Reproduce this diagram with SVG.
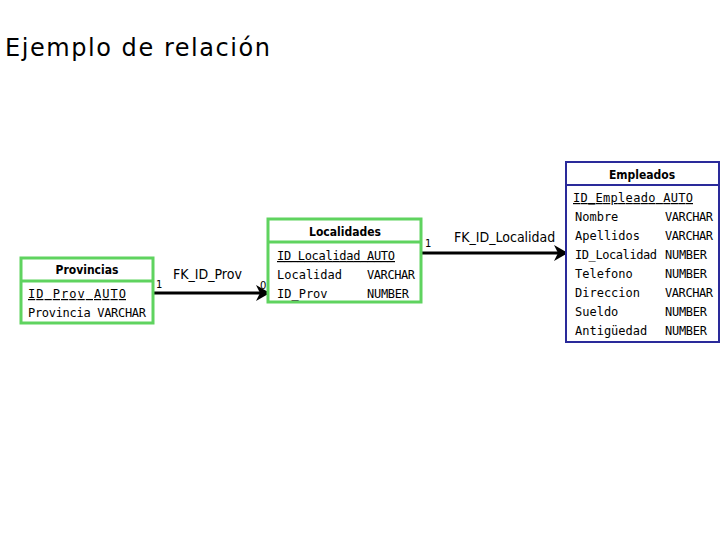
<svg xmlns="http://www.w3.org/2000/svg" width="720" height="540" viewBox="0 0 720 540">
<defs>
<style>
.g{fill:#fff;stroke:#5fd35f;stroke-width:3}
.b{fill:#fff;stroke:#2a2a9a;stroke-width:2}
.hd{font-family:"DejaVu Sans Condensed","DejaVu Sans",sans-serif;font-weight:bold;font-size:12px;text-anchor:middle}
.r{font-family:"DejaVu Sans Mono",monospace;font-size:12px}
.l{font-family:"DejaVu Sans Condensed","DejaVu Sans",sans-serif;font-size:14px}
.s{font-family:"DejaVu Sans",sans-serif;font-size:10px}
.c{stroke:#000;stroke-width:3;fill:none}
</style>
<marker id="a" markerWidth="14" markerHeight="16" refX="12" refY="8" orient="auto" markerUnits="userSpaceOnUse"><path d="M0,0 L14,8 L0,16 L4,8 Z" fill="#000"/></marker>
</defs>
<rect width="720" height="540" fill="#fff"/>
<text x="5" y="56" font-family="'DejaVu Sans',sans-serif" font-size="24" textLength="265">Ejemplo de relación</text>
<g id="connectors">
<line class="c" x1="154" y1="293" x2="268" y2="293" marker-end="url(#a)"/>
<text class="l" x="173" y="279">FK_ID_Prov</text>
<text class="s" x="156" y="288">1</text>
<text class="s" x="260" y="289">0</text>
<line class="c" x1="422" y1="253" x2="566" y2="253" marker-end="url(#a)"/>
<text class="l" x="454" y="242">FK_ID_Localidad</text>
<text class="s" x="425" y="247">1</text>
</g>
<g id="provincias">
<rect class="g" x="21" y="258" width="132" height="65"/>
<line class="g" x1="21" y1="281" x2="153" y2="281"/>
<text class="hd" x="87" y="274">Provincias</text>
<text class="r" x="28" y="298" text-decoration="underline" textLength="98">ID Prov   AUTO</text>
<text class="r" x="28" y="317" textLength="118">Provincia VARCHAR</text>
</g>
<g id="localidades">
<rect class="g" x="268" y="219" width="153" height="83"/>
<line class="g" x1="268" y1="242" x2="421" y2="242"/>
<text class="hd" x="345" y="236">Localidades</text>
<text class="r" x="277" y="260" text-decoration="underline" textLength="118">ID Localidad AUTO</text>
<text class="r" x="277" y="279">Localidad</text><text class="r" x="367" y="279" textLength="48">VARCHAR</text>
<text class="r" x="277" y="298">ID_Prov</text><text class="r" x="367" y="298" textLength="42">NUMBER</text>
</g>
<g id="empleados">
<rect class="b" x="566" y="162" width="153" height="180"/>
<line class="b" x1="566" y1="185" x2="719" y2="185"/>
<text class="hd" x="642" y="179">Empleados</text>
<g class="r">
<text x="573" y="202" text-decoration="underline" textLength="120">ID_Empleado  AUTO</text>
<text x="575" y="221">Nombre</text><text x="665" y="221" textLength="48">VARCHAR</text>
<text x="575" y="240">Apellidos</text><text x="665" y="240" textLength="48">VARCHAR</text>
<text x="575" y="259" textLength="82">ID_Localidad</text><text x="665" y="259" textLength="42">NUMBER</text>
<text x="575" y="278">Telefono</text><text x="665" y="278" textLength="42">NUMBER</text>
<text x="575" y="297">Direccion</text><text x="665" y="297" textLength="48">VARCHAR</text>
<text x="575" y="316">Sueldo</text><text x="665" y="316" textLength="42">NUMBER</text>
<text x="575" y="335">Antigüedad</text><text x="665" y="335" textLength="42">NUMBER</text>
</g>
</g>
</svg>
